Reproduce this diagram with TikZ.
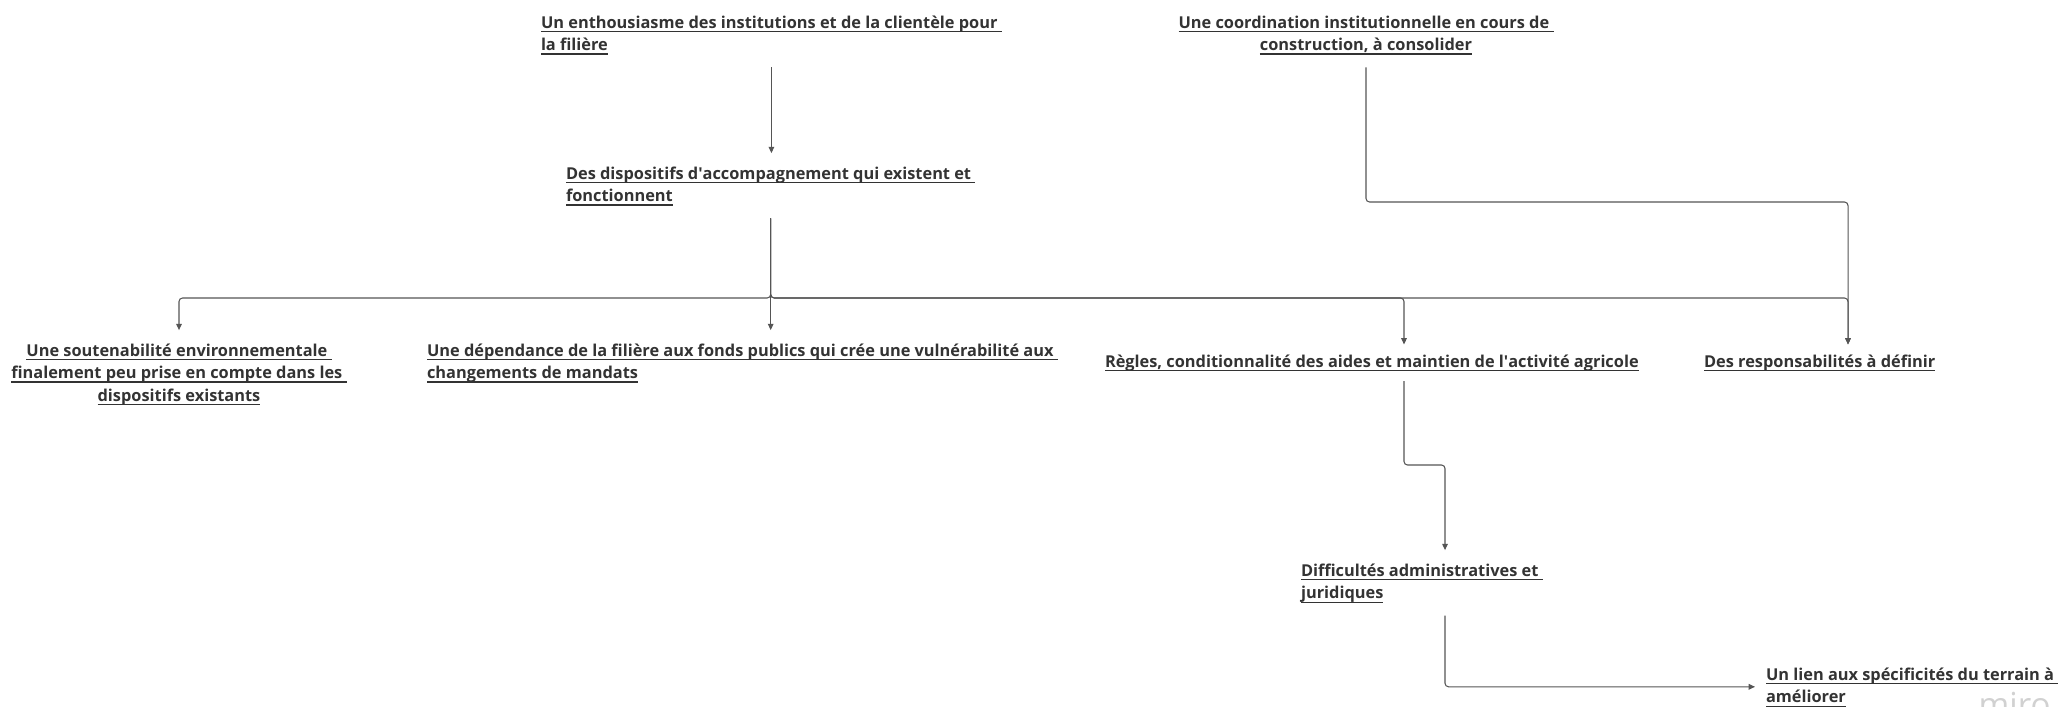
\documentclass[tikz,border=0pt]{standalone}
\usepackage{fontspec}
\setmainfont{Open Sans}
\usetikzlibrary{arrows.meta}
\definecolor{txtgray}{HTML}{333333}
\definecolor{lngray}{HTML}{555555}
\newcommand\ulin[1]{\setbox0\hbox{#1}\rlap{\rule[-1.15pt]{\wd0}{0.35pt}}\box0}
\newcommand\lft[1]{\begin{tabular}[t]{@{}l@{}}#1\end{tabular}}
\newcommand\ctr[1]{\begin{tabular}[t]{@{}c@{}}#1\end{tabular}}

\begin{document}
\begin{tikzpicture}[x=0.01cm,y=-0.01cm,
  lbl/.style={inner sep=0pt,outer xsep=0pt,outer ysep=1mm,text=txtgray,font=\fontsize{4.65}{6.45}\selectfont\bfseries},
  arr/.style={lngray,line width=0.3pt,rounded corners=1pt,-{Triangle[length=1.8pt,width=1.6pt]}}]
\fill[white] (0,0) rectangle (2058,706);
\useasboundingbox (0,0) rectangle (2058,706);
\node[lbl,anchor=base west] (enth) at (541,28) {\lft{\ulin{Un enthousiasme des institutions et de la clientèle pour }\\\ulin{la filière}}};
\node[lbl,anchor=base] (coord) at (1366,28) {\ctr{\ulin{Une coordination institutionnelle en cours de }\\\ulin{construction, à consolider}}};
\node[lbl,anchor=base west] (disp) at (566,179) {\lft{\ulin{Des dispositifs d\textquotesingle accompagnement qui existent et }\\\ulin{fonctionnent}}};
\node[lbl,anchor=base] (sout) at (179,356) {\ctr{\ulin{Une soutenabilité environnementale }\\\ulin{finalement peu prise en compte dans les }\\\ulin{dispositifs existants}}};
\node[lbl,anchor=base west] (dep) at (427,356) {\lft{\ulin{Une dépendance de la filière aux fonds publics qui crée une vulnérabilité aux }\\\ulin{changements de mandats}}};
\node[lbl,anchor=base west] (regl) at (1105,367) {\ulin{Règles, conditionnalité des aides et maintien de l\textquotesingle activité agricole}};
\node[lbl,anchor=base west] (resp) at (1704,367) {\ulin{Des responsabilités à définir}};
\node[lbl,anchor=base west] (diff) at (1301,576) {\lft{\ulin{Difficultés administratives et }\\\ulin{juridiques}}};
\node[lbl,anchor=base west] (lien) at (1766,680) {\lft{\ulin{Un lien aux spécificités du terrain à }\\\ulin{améliorer}}};
\node[inner sep=0pt,anchor=base west,text=black!18,font=\fontsize{9.4}{11}\selectfont] (logo) at (1978,716) {miro};
\coordinate (bus) at (0,298);
\coordinate (busB) at (0,202);
\coordinate (busH) at (0,465);
\coordinate (xF) at (1404,0);
\coordinate (xG) at (1848,0);
\coordinate (xH) at (1445,0);
\draw[arr] (enth.south) -- (enth.south |- disp.north);
\draw[arr] (disp.south) |- (bus -| sout.north) -- (sout.north);
\draw[arr] (disp.south) -- (disp.south |- dep.north);
\draw[arr] (disp.south) |- (bus -| xF) -- (regl.north -| xF);
\draw[arr] (disp.south) |- (bus -| xG) -- (resp.north -| xG);
\draw[arr] (coord.south) |- (busB -| xG) -- (resp.north -| xG);
\draw[arr] (regl.south -| xF) |- (busH -| xH) -- (diff.north -| xH);
\draw[arr,shorten >=1.1mm] (diff.south -| xH) |- (lien.west);
\end{tikzpicture}
\end{document}
